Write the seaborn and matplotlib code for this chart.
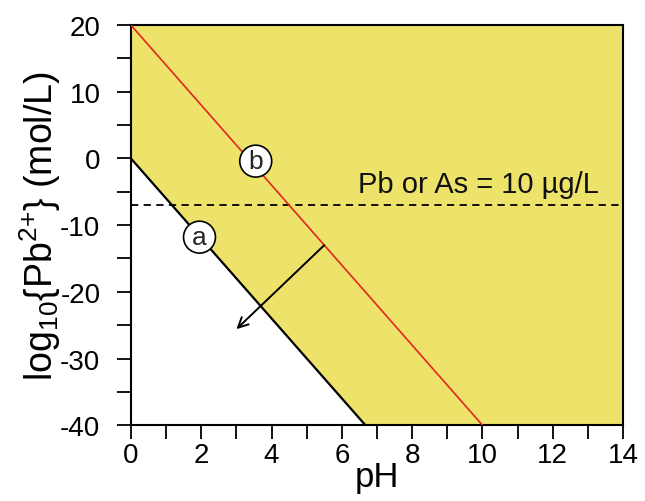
import numpy as np
import pandas as pd
import seaborn as sns
import matplotlib.pyplot as plt

# Data
ph_a = [0.0, 6.67]
logpb_a = [0.0, -40.0]
ph_b = [0.0, 10.0]
logpb_b = [20.0, -40.0]
limit_value = -7.0
limit_label = "Pb or As = 10 µg/L"
arrow_start = (5.5, -13.0)
arrow_end = (3.0, -25.6)
label_a = (1.95, -11.8)
label_b = (3.55, -0.4)
xticks = list(range(0, 15))
yticks = list(range(-40, 21, 5))

sns.set_theme(style="ticks")
plt.rcParams['font.family'] = ['Liberation Sans', 'DejaVu Sans']
plt.rcParams['mathtext.fontset'] = 'custom'
plt.rcParams['mathtext.rm'] = 'Liberation Sans'
plt.rcParams['mathtext.it'] = 'Liberation Sans'

fig = plt.figure(figsize=(6.45, 5.02), dpi=100)
ax = fig.add_axes([0.203, 0.151, 0.763, 0.797])

yellow = '#EDE26A'
xf = np.linspace(0, 14, 400)
lower = np.interp(xf, ph_a + [14.0], logpb_a + [-40.0])
ax.fill_between(xf, lower, 20, color=yellow, linewidth=0, zorder=0)

df_a = pd.DataFrame({'pH': ph_a, 'y': logpb_a})
df_b = pd.DataFrame({'pH': ph_b, 'y': logpb_b})
sns.lineplot(data=df_a, x='pH', y='y', ax=ax, color='black', linewidth=1.6, zorder=3)
sns.lineplot(data=df_b, x='pH', y='y', ax=ax, color='#E3261F', linewidth=1.2, zorder=3)

ax.axhline(limit_value, color='black', linestyle=(0, (4, 3)), linewidth=1.3, zorder=2)
ax.text(13.3, limit_value + 1.0, limit_label, ha='right', va='bottom', fontsize=21, color='#111111')

ax.annotate('', xy=arrow_end, xytext=arrow_start,
            arrowprops=dict(arrowstyle='->', color='black', lw=1.4, mutation_scale=18,
                            shrinkA=0, shrinkB=0), zorder=4)

for (x, y), t in [(label_a, 'a'), (label_b, 'b')]:
    ax.text(x, y, t, ha='center', va='center', fontsize=19, zorder=5,
            bbox=dict(boxstyle='circle,pad=0.15', fc='white', ec='black', lw=1.2))

ax.set_xlim(0, 14)
ax.set_ylim(-40, 20)
ax.set_xticks(xticks)
ax.set_xticklabels([str(v) if v % 2 == 0 else '' for v in xticks])
ax.set_yticks(yticks)
ax.set_yticklabels([str(v) if v % 10 == 0 else '' for v in yticks])
ax.tick_params(axis='both', direction='out', length=10, width=1.3, labelsize=20, color='black',
               labelcolor='black')
ax.tick_params(axis='x', pad=2)
ax.tick_params(axis='y', pad=12)
for s in ax.spines.values():
    s.set_color('black')
    s.set_linewidth(1.5)
ax.set_xlabel('pH', fontsize=25, labelpad=-6, color='black')
ax.set_ylabel(r'log$_{10}${Pb$^{2{+}}$} (mol/L)', fontsize=27, labelpad=-2, color='black')

fig.savefig('out.png', dpi=100)
